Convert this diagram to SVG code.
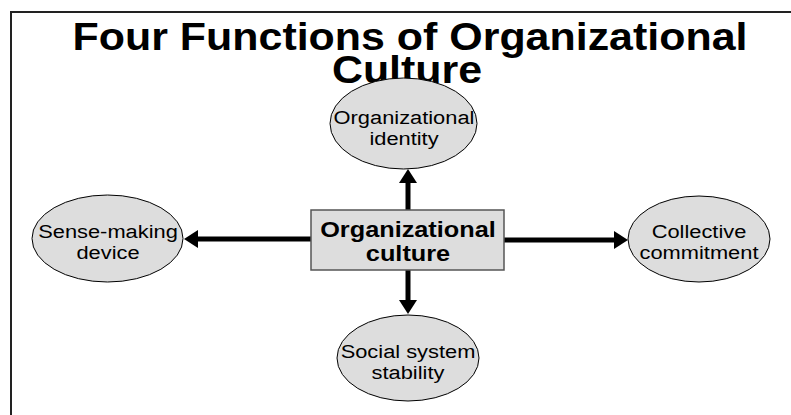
<svg xmlns="http://www.w3.org/2000/svg" width="791" height="415" viewBox="0 0 791 415">
<style>
.t{font-family:"Liberation Sans",Arial,sans-serif;fill:#000;text-anchor:middle}
.title{font-size:38px;font-weight:bold}
.box{font-size:22px;font-weight:bold}
.el{font-size:19px}
.node ellipse{fill:#dddddd;stroke:#000;stroke-width:1}
.node rect{fill:#dddddd;stroke:#555;stroke-width:1.5}
.conn line{stroke:#000;stroke-width:5}
</style>
<defs>
<marker id="ah" viewBox="0 0 14 18" refX="4" refY="9" markerWidth="14" markerHeight="18" markerUnits="userSpaceOnUse" orient="auto">
<path d="M0,0 L14,9 L0,18 Z" fill="#000"/>
</marker>
</defs>
<rect width="791" height="415" fill="#fff"/>
<path d="M11,415 V12 H791" fill="none" stroke="#222" stroke-width="2"/>
<g id="title">
<text class="t title" transform="translate(410,50) scale(1.13,1)">Four Functions of Organizational</text>
<text class="t title" transform="translate(407,83) scale(1.13,1)">Culture</text>
</g>
<g class="conn" id="connectors">
<line x1="408" y1="210" x2="408" y2="179" marker-end="url(#ah)"/>
<line x1="408" y1="270" x2="408" y2="304" marker-end="url(#ah)"/>
<line x1="311" y1="239" x2="194" y2="239" marker-end="url(#ah)"/>
<line x1="504" y1="240" x2="618" y2="240" marker-end="url(#ah)"/>
</g>
<g class="node" id="identity">
<ellipse cx="403.5" cy="123.5" rx="73.5" ry="45.5"/>
<text class="t el" transform="translate(404,124) scale(1.15,1)">Organizational</text>
<text class="t el" transform="translate(404,145) scale(1.15,1)">identity</text>
</g>
<g class="node" id="sense">
<ellipse cx="107.5" cy="238.5" rx="75.5" ry="43.5"/>
<text class="t el" transform="translate(108,238) scale(1.15,1)">Sense-making</text>
<text class="t el" transform="translate(108,259) scale(1.15,1)">device</text>
</g>
<g class="node" id="commitment">
<ellipse cx="699" cy="239" rx="71" ry="43"/>
<text class="t el" transform="translate(699,238) scale(1.15,1)">Collective</text>
<text class="t el" transform="translate(699,259) scale(1.15,1)">commitment</text>
</g>
<g class="node" id="stability">
<ellipse cx="408" cy="358" rx="71" ry="43"/>
<text class="t el" transform="translate(408,358) scale(1.15,1)">Social system</text>
<text class="t el" transform="translate(408,379) scale(1.15,1)">stability</text>
</g>
<g class="node" id="culture">
<rect x="311" y="210" width="193" height="60"/>
<text class="t box" transform="translate(408,237) scale(1.15,1)">Organizational</text>
<text class="t box" transform="translate(408,261) scale(1.15,1)">culture</text>
</g>
</svg>
